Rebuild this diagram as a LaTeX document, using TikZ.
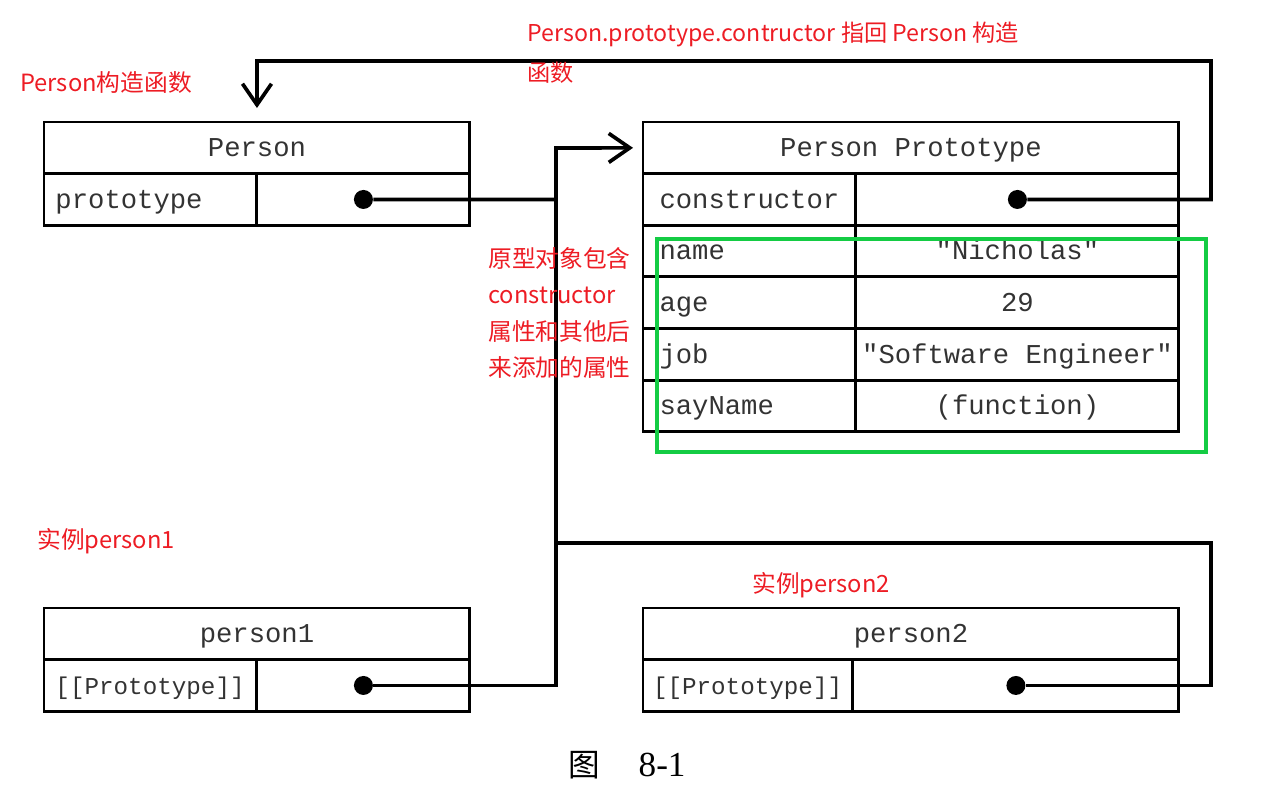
\documentclass[tikz,border=0pt]{standalone}
\usepackage{fontspec}
\usetikzlibrary{arrows.meta}
\newfontfamily\code{Liberation Mono}[Ligatures=TeXOff]
\newfontfamily\cjk{Noto Sans CJK SC}
\newfontfamily\capserif{Liberation Serif}
\definecolor{notered}{RGB}{237,28,36}
\definecolor{boxgreen}{RGB}{20,204,68}
\tikzset{
	box/.style={draw, line width=1.7pt, rectangle, inner sep=0pt, outer sep=0pt,
		minimum height=1.033cm, text height=1.05em, text depth=0.05em,
		font=\code\fontsize{15.5}{18}\selectfont, text=black!80},
	keycell/.style={box, minimum width=4.26cm, text width=#1, align=left},
	keycell/.default=3.8cm,
	valcell/.style={box, minimum width=#1},
	dot/.style={circle, fill=black, inner sep=0pt, minimum size=0.38cm},
	link/.style={line width=2.1pt, black},
	note/.style={text=notered, inner sep=0pt, anchor=west, align=left,
		font=\cjk\fontsize{13.5}{22}\selectfont},
}

\begin{document}
\begin{tikzpicture}[x=0.02cm, y=-0.02cm]
	%%%%% START %%%%%
	\useasboundingbox (0,0) rectangle (1262,794);

	% Person
	\node[box, minimum width=8.52cm, anchor=north west] (person) at (44,122) {Person};
	\node[keycell, anchor=north west] (personkey) at (person.south west) {prototype};
	\node[valcell=4.26cm, anchor=north west] (personval) at (personkey.north east) {};
	\node[dot] (pdot) at (personval.center) {};

	% Person Prototype
	\node[box, minimum width=10.72cm, anchor=north west] (proto) at (643,122) {Person Prototype};
	\node[keycell=3.6cm, anchor=north west] (ctorkey) at (proto.south west) {constructor};
	\node[valcell=6.46cm, anchor=north west] (ctorval) at (ctorkey.north east) {};
	\node[dot] (cdot) at (ctorval.center) {};
	\node[keycell=3.6cm, anchor=north west] (namekey) at (ctorkey.south west) {name};
	\node[valcell=6.46cm, anchor=north west] (nameval) at (namekey.north east) {"Nicholas"};
	\node[keycell=3.6cm, anchor=north west] (agekey) at (namekey.south west) {age};
	\node[valcell=6.46cm, anchor=north west] (ageval) at (agekey.north east) {29};
	\node[keycell=3.6cm, anchor=north west] (jobkey) at (agekey.south west) {job};
	\node[valcell=6.46cm, anchor=north west] (jobval) at (jobkey.north east) {"Software Engineer"};
	\node[keycell=3.6cm, anchor=north west] (saykey) at (jobkey.south west) {sayName};
	\node[valcell=6.46cm, anchor=north west] (sayval) at (saykey.north east) {(function)};

	% person1
	\node[box, minimum width=8.52cm, anchor=north west] (person1) at (44,608) {person1};
	\node[keycell, anchor=north west, font=\code\fontsize{13.8}{16}\selectfont] (p1key) at (person1.south west) {[[Prototype]]};
	\node[valcell=4.26cm, anchor=north west] (p1val) at (p1key.north east) {};
	\node[dot] (p1dot) at (p1val.center) {};

	% person2
	\node[box, minimum width=10.72cm, anchor=north west] (person2) at (643,608) {person2};
	\node[keycell, minimum width=4.2cm, anchor=north west, font=\code\fontsize{13.8}{16}\selectfont] (p2key) at (person2.south west) {[[Prototype]]};
	\node[valcell=6.52cm, anchor=north west] (p2val) at (p2key.north east) {};
	\node[dot] (p2dot) at (p2val.center) {};

	% connectors
	\coordinate (bus) at (556,148);
	\coordinate (join) at (556,543);
	\coordinate (rbot) at (1211,543);
	\coordinate (rtop) at (1211,61);
	\coordinate (ltop) at (257,61);

	\draw[link, -{Straight Barb[length=0.42cm, width=0.58cm, line width=2.1pt]}, shorten >=0.2cm]
		(pdot) -| (bus) -- (proto.west);
	\draw[link] (p1dot) -| (bus);
	\draw[link] (p2dot) -| (rbot) -- (join);
	\draw[link, -{Straight Barb[length=0.42cm, width=0.58cm, line width=2.1pt]}, shorten >=0.28cm]
		(cdot) -| (rtop) -- (ltop) -- (person.north);

	% highlight
	\draw[line width=2.4pt, boxgreen] (657,239) rectangle (1206,452);

	% notes
	\node[note] (ctornote) at (20,83) {Person构造函数};
	\node[note, font=\cjk\fontsize{13.2}{22.5}\selectfont] (backnote) at (527,52.5) {Person.prototype.contructor 指回 Person 构造\\函数};
	\node[note, font=\cjk\fontsize{13.5}{20.8}\selectfont] (protonote) at (488,313)
		{原型对象包含\\constructor\\属性和其他后\\来添加的属性};
	\node[note] (p1note) at (37,541) {实例person1};
	\node[note] (p2note) at (752,585) {实例person2};

	\node[inner sep=0pt, font=\capserif\fontsize{20}{24}\selectfont] (caption) at (627,765)
		{{\cjk\fontsize{18}{22}\selectfont 图}\hspace{22pt}8-1};
	%%%%% END %%%%%
\end{tikzpicture}
\end{document}
